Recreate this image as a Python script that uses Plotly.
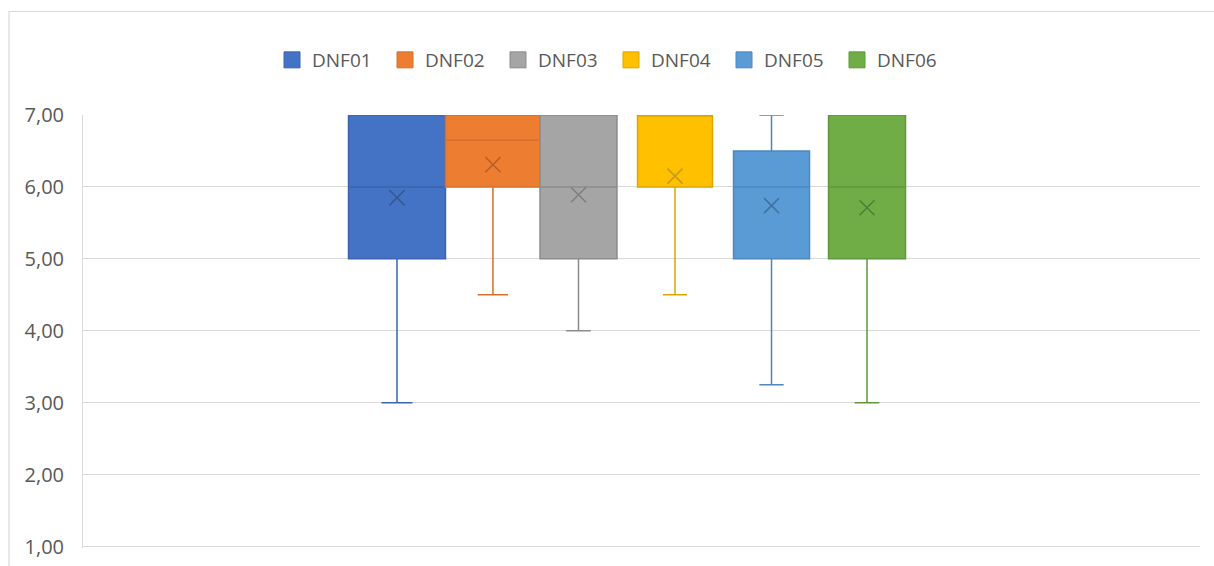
import plotly.graph_objects as go

# Series names and five-number summaries (plus mean) for each item
series = ["DNF01", "DNF02", "DNF03", "DNF04", "DNF05", "DNF06"]
minimum = [3.00, 4.50, 4.00, 4.50, 3.25, 3.00]
q1 = [5.00, 6.00, 5.00, 6.00, 5.00, 5.00]
median = [6.00, 6.65, 6.00, 7.00, 6.00, 6.00]
q3 = [7.00, 7.00, 7.00, 7.00, 6.50, 7.00]
maximum = [7.00, 7.00, 7.00, 7.00, 7.00, 7.00]
mean = [5.85, 6.31, 5.89, 6.15, 5.74, 5.71]

y_ticks = [1, 2, 3, 4, 5, 6, 7]

# Styling
fills = ["#4472C4", "#ED7D31", "#A5A5A5", "#FFC000", "#5B9BD5", "#70AD47"]
lines = ["#3A64B0", "#D4702B", "#8C8C8C", "#DDA500", "#4C87BE", "#5F983C"]
marks = ["#34568F", "#B8622A", "#7E7E7E", "#C79A1A", "#3F73A3", "#4E7F33"]

# Box centres / widths on a 0..1 horizontal scale across the plot area
centres = [0.2811, 0.3670, 0.4436, 0.5300, 0.6164, 0.7019]
widths = [0.0868, 0.0850, 0.0689, 0.0671, 0.0680, 0.0689]

W, H = 1214, 566
ML, MR, MT, MB = 83, 14, 115, 18
Y_MIN, Y_MAX = 0.98, 7.0
PW, PH = W - ML - MR, H - MT - MB

fig = go.Figure()
for i, name in enumerate(series):
    fig.add_trace(go.Box(
        name=name,
        x=[centres[i]],
        q1=[q1[i]], median=[median[i]], q3=[q3[i]],
        lowerfence=[minimum[i]], upperfence=[maximum[i]],
        width=widths[i],
        whiskerwidth=0.32,
        fillcolor=fills[i],
        line=dict(color=lines[i], width=1.5),
        boxpoints=False,
        showlegend=False,
        hoverinfo="skip",
    ))
for i, name in enumerate(series):
    fig.add_trace(go.Scatter(
        x=[centres[i]], y=[mean[i]],
        mode="markers",
        marker=dict(symbol="x-thin-open", size=15, color=marks[i],
                    line=dict(color=marks[i], width=1.5)),
        showlegend=False, hoverinfo="skip",
    ))
# Square legend swatches, one per series
for i, name in enumerate(series):
    fig.add_trace(go.Scatter(
        x=[None], y=[None], mode="markers", name=name,
        marker=dict(symbol="square", size=16, color=fills[i],
                    line=dict(color=lines[i], width=1)),
        hoverinfo="skip",
    ))


def px_x(p):
    return (p - ML) / PW


def px_y(p):
    return 1 - (p - MT) / PH


fig.update_layout(
    width=W, height=H,
    margin=dict(l=ML, r=MR, t=MT, b=MB),
    paper_bgcolor="white", plot_bgcolor="white",
    separators=",.",
    font=dict(family="Open Sans, sans-serif", color="#595959", size=16),
    boxmode="overlay",
    showlegend=True,
    legend=dict(
        orientation="h",
        x=px_x(611), xanchor="center",
        y=px_y(60), yanchor="middle",
        font=dict(size=19, color="#595959"),
        entrywidth=68, entrywidthmode="pixels",
        itemclick=False,
    ),
    xaxis=dict(range=[0, 1], visible=False, fixedrange=True),
    yaxis=dict(
        range=[Y_MIN, Y_MAX],
        tickvals=y_ticks,
        tickformat=".2f",
        showgrid=True, gridcolor="#D9D9D9", gridwidth=1,
        showline=True, linecolor="#D9D9D9", linewidth=1,
        zeroline=False, automargin=False,
        ticks="", ticklabelstandoff=14,
        tickfont=dict(size=20, color="#595959"),
        fixedrange=True,
    ),
    shapes=[dict(
        type="rect", xref="paper", yref="paper",
        x0=px_x(9), x1=px_x(W + 20), y0=px_y(H + 20), y1=px_y(11.5),
        line=dict(color="#D9D9D9", width=1.2), fillcolor="rgba(0,0,0,0)",
        layer="below",
    )],
)

fig.write_html("out.html")
